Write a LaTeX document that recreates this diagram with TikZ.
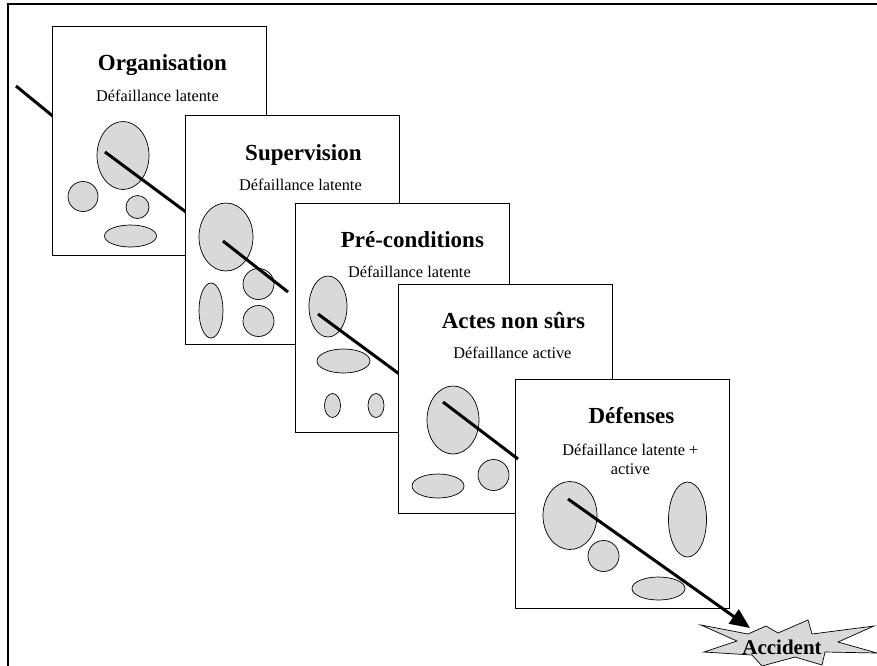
\documentclass[tikz,border=0pt]{standalone}
\usepackage{fontspec}
\setmainfont{Liberation Serif}
\usetikzlibrary{arrows.meta,positioning,calc}

\begin{document}
\begin{tikzpicture}[
  x=1pt, y=-1pt,
  panel/.style={draw, line width=0.8pt, fill=white, anchor=north west, minimum width=214pt, minimum height=229pt, inner sep=0pt},
  ttl/.style={font=\fontsize{23}{26}\selectfont\bfseries, anchor=base, inner sep=0pt},
  sub/.style={font=\fontsize{16.3}{19}\selectfont, anchor=base, inner sep=0pt},
  blob/.style={draw, line width=0.7pt, fill=black!15},
  traj/.style={line width=3pt},
  arr/.style={traj, -{Triangle[length=20pt, width=17pt]}},
  burst/.style={draw, line width=0.7pt, fill=black!15, line join=miter},
]
\useasboundingbox (0,0) rectangle (877,665);
\clip (0,0) rectangle (877,665);
\draw[line width=1.2pt] (8,4) rectangle (900,700);

% way in
\coordinate (in0) at (16,86);
\coordinate (in1) at (60,122);
\draw[traj] (in0) -- (in1);

% Organisation
\node[panel] (org) at (52,26) {};
\node[ttl] (orgT) at ([xshift=3pt, yshift=-44pt]org.north) {Organisation};
\node[sub] (orgS) at ([xshift=-2pt, yshift=-75pt]org.north) {Défaillance latente};
\draw[blob] (123,155.5) ellipse [x radius=26pt, y radius=34pt];
\draw[blob] (83,196.5) circle [radius=15pt];
\draw[blob] (137.5,207) circle [radius=11.5pt];
\draw[blob] (130.5,236) ellipse [x radius=26pt, y radius=11pt];
\coordinate (t1a) at (105,152);
\coordinate (t1b) at (190,215);
\draw[traj] (t1a) -- (t1b);

% Supervision
\node[panel] (sup) at (185,115) {};
\node[ttl] (supT) at ([xshift=11pt, yshift=-45pt]sup.north) {Supervision};
\node[sub] (supS) at ([xshift=8pt, yshift=-75pt]sup.north) {Défaillance latente};
\draw[blob] (226,237) ellipse [x radius=27pt, y radius=34pt];
\draw[blob] (258.5,284) circle [radius=15.5pt];
\draw[blob] (211,310.5) ellipse [x radius=12pt, y radius=27.5pt];
\draw[blob] (258.5,321) circle [radius=15.5pt];
\coordinate (t2a) at (223,241);
\coordinate (t2b) at (288,292);
\draw[traj] (t2a) -- (t2b);

% Pre-conditions
\node[panel] (pre) at (295,203) {};
\node[ttl] (preT) at ([xshift=10pt, yshift=-44pt]pre.north) {Pré-conditions};
\node[sub] (preS) at ([xshift=7pt, yshift=-74pt]pre.north) {Défaillance latente};
\draw[blob] (328,306.5) ellipse [x radius=19pt, y radius=30.5pt];
\draw[blob] (343.5,361) ellipse [x radius=26.5pt, y radius=12pt];
\draw[blob] (332.5,405.5) ellipse [x radius=8pt, y radius=12pt];
\draw[blob] (376,405.5) ellipse [x radius=8pt, y radius=12pt];
\coordinate (t3a) at (318,314);
\coordinate (t3b) at (402,376);
\draw[traj] (t3a) -- (t3b);

% Actes non surs
\node[panel] (act) at (398,284) {};
\node[ttl] (actT) at ([xshift=8pt, yshift=-44pt]act.north) {Actes non sûrs};
\node[sub] (actS) at ([xshift=7pt, yshift=-74pt]act.north) {Défaillance active};
\draw[blob] (453,420) ellipse [x radius=26pt, y radius=34pt];
\draw[blob] (438,486) ellipse [x radius=26pt, y radius=12pt];
\draw[blob] (493.5,475) circle [radius=15.5pt];
\coordinate (t4a) at (443,402);
\coordinate (t4b) at (518,459);

% Defenses
\node[panel] (def) at (515,379) {};
\node[ttl] (defT) at ([xshift=9pt, yshift=-44pt]def.north) {Défenses};
\node[sub] (defS) at ([xshift=8pt, yshift=-76pt]def.north) {Défaillance latente +};
\node[sub] (defS2) at ([xshift=8pt, yshift=-95pt]def.north) {active};
\draw[blob] (570,515.5) ellipse [x radius=27pt, y radius=34pt];
\draw[blob] (603.5,556) circle [radius=15.5pt];
\draw[blob] (687.5,519.5) ellipse [x radius=19pt, y radius=37.5pt];
\draw[blob] (658.5,588.5) ellipse [x radius=26.5pt, y radius=11.5pt];
\draw[traj] (t4a) -- (t4b);

% accident
\draw[burst] (701,625) -- (748,634) -- (766,626) -- (778,633) -- (808,620) -- (812,634)
  -- (874,626) -- (838,642) -- (877,653) -- (825,652) -- (822,665) -- (795,657)
  -- (762,666) -- (752,655) -- (704,652) -- (737,641) -- cycle;
\node[font=\fontsize{21}{23}\selectfont\bfseries, anchor=base, inner sep=0pt] (acc) at (782,654) {Accident};
\coordinate (t5a) at (568,499);
\coordinate (hit) at (750,628);
\draw[arr] (t5a) -- (hit);
\end{tikzpicture}
\end{document}
